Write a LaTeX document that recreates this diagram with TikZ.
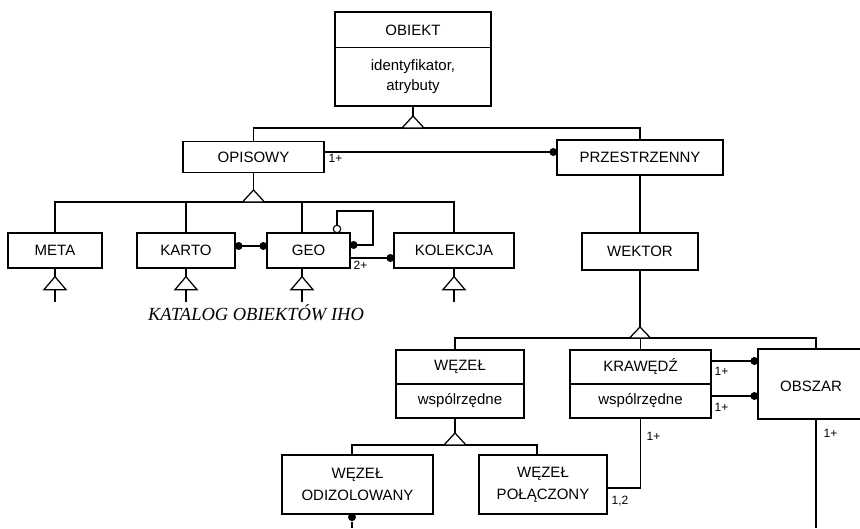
\documentclass[tikz,border=0pt]{standalone}
\usepackage{fontspec}
\setmainfont{Liberation Sans}
\newfontfamily\katfont{Liberation Serif}
\newcommand{\subtri}[2]{%
  \draw (#1) -- ++(0,8) coordinate (#2);
  \draw[fill=white] (#2) -- ++(-11,13) -- ++(22,0) -- cycle;
  \draw (#2) ++(0,13) -- ++(0,12);}
\begin{document}
\begin{tikzpicture}[x=1pt,y=-1pt,line width=1.25pt,
  box/.style={draw,inner sep=0pt,align=center,font=\fontsize{15}{22}\selectfont},
  txt/.style={inner sep=0pt,align=center,font=\fontsize{15}{20}\selectfont},
  lbl/.style={inner sep=0pt,anchor=west,font=\fontsize{12}{13}\selectfont},
  fdot/.style={circle,fill,inner sep=0pt,minimum size=8pt},
  odot/.style={circle,draw,fill=white,inner sep=0pt,minimum size=7.5pt,line width=1.1pt},
  tri/.style={draw,fill=white}]
\useasboundingbox (0,0) rectangle (860,528);
\clip (0,0) rectangle (860,528);
\fill[white] (0,0) rectangle (860,528);

% OBIEKT
\node[box,minimum width=156pt,minimum height=94pt] (obiekt) at (413,59) {};
\draw ([yshift=-36pt]obiekt.north west) -- ([yshift=-36pt]obiekt.north east);
\node[txt] (obiektT) at (413,30) {OBIEKT};
\node[txt] (obiektA) at (413,77) {identyfikator,\\atrybuty};

\node[box,minimum width=141pt,minimum height=31pt] (opisowy) at (253.5,157) {OPISOWY};
\node[box,minimum width=166pt,minimum height=35pt] (przestrzenny) at (640,157.5) {PRZESTRZENNY};

\coordinate (a1) at (413,116);
\coordinate (b1) at (413,128);
\draw (obiekt.south) -- (a1);
\draw (opisowy.north) |- (b1) -| (przestrzenny.north);
\draw[tri] (a1) -- ++(-11,12) -- ++(22,0) -- cycle;

\coordinate (l1) at (0,152);
\draw (opisowy.east |- l1) -- (przestrzenny.west |- l1);
\node[fdot,xshift=-3pt] (d1) at (przestrzenny.west |- l1) {};
\node[lbl] (m1) at (328,158.5) {1+};

% second level
\node[box,minimum width=94pt,minimum height=35pt] (meta) at (55,250.5) {META};
\node[box,minimum width=98pt,minimum height=35pt] (karto) at (186,250.5) {KARTO};
\node[box,minimum width=83pt,minimum height=35pt] (geo) at (308.5,250.5) {GEO};
\node[box,minimum width=120pt,minimum height=35pt] (kolekcja) at (454,250.5) {KOLEKCJA};

\coordinate (a2) at (253.5,190);
\coordinate (b2) at (253.5,202);
\draw (opisowy.south) -- (a2);
\draw (meta.north) |- (b2) -| (kolekcja.north);
\draw (karto.north) -- (karto.north |- b2);
\draw ([xshift=-6.5pt]geo.north) -- ([xshift=-6.5pt]geo.north |- b2);
\draw[tri] (a2) -- ++(-11,12) -- ++(22,0) -- cycle;

\subtri{meta.south}{ta}
\subtri{karto.south}{tb}
\subtri{[xshift=-6.5pt]geo.south}{tc}
\subtri{kolekcja.south}{td}

\coordinate (l2) at (0,246);
\draw (karto.east |- l2) -- (geo.west |- l2);
\node[fdot,xshift=3pt] (d2a) at (karto.east |- l2) {};
\node[fdot,xshift=-3pt] (d2b) at (geo.west |- l2) {};

\node[odot] (oc) at (337,229) {};
\coordinate (lp) at (373,211);
\coordinate (l3) at (0,245);
\draw (oc.north) |- (lp) |- (geo.east |- l3);
\node[fdot,xshift=3pt] (d3) at (geo.east |- l3) {};

\coordinate (l4) at (0,258);
\draw (geo.east |- l4) -- (kolekcja.west |- l4);
\node[fdot,xshift=-3pt] (d4) at (kolekcja.west |- l4) {};
\node[lbl] (m2) at (353,265.5) {2+};

\node[inner sep=0pt,font=\katfont\itshape\fontsize{18.5}{20}\selectfont] (katalog) at (256,313) {KATALOG OBIEKTÓW IHO};

% WEKTOR
\node[box,minimum width=116pt,minimum height=37pt] (wektor) at (640,251.5) {WEKTOR};
\draw (przestrzenny.south) -- (wektor.north);

% third level
\node[box,minimum width=128pt,minimum height=68pt] (wezel) at (460,384) {};
\draw (wezel.west) -- (wezel.east);
\node[txt] (wezelT) at (460,367) {WĘZEŁ};
\node[txt] (wezelA) at (460,401) {wspólrzędne};
\node[box,minimum width=141pt,minimum height=68pt] (krawedz) at (640.5,384) {};
\draw (krawedz.west) -- (krawedz.east);
\node[txt] (krawedzT) at (640.5,367) {KRAWĘDŹ};
\node[txt] (krawedzA) at (640.5,401) {wspólrzędne};
\node[box,minimum width=108pt,minimum height=70pt] (obszar) at (812,384) {};
\node[txt] (obszarT) at (811,386) {OBSZAR};

\coordinate (a3) at (640,327);
\coordinate (b3) at (640,338);
\draw (wektor.south) -- (a3);
\draw ([xshift=-5pt]wezel.north) |- (b3) -| ([xshift=4pt]obszar.north);
\draw (krawedz.north) -- (krawedz.north |- b3);
\draw[tri] (a3) -- ++(-10.5,11) -- ++(21,0) -- cycle;

\coordinate (l5) at (0,361);
\coordinate (l6) at (0,396);
\draw (krawedz.east |- l5) -- (obszar.west |- l5);
\draw (krawedz.east |- l6) -- (obszar.west |- l6);
\node[fdot,xshift=-3pt] (d5) at (obszar.west |- l5) {};
\node[fdot,xshift=-3pt] (d6) at (obszar.west |- l6) {};
\node[lbl] (m3) at (714,371) {1+};
\node[lbl] (m4) at (714,407) {1+};

% bottom level
\node[box,minimum width=151pt,minimum height=59pt] (odiz) at (357.5,484.5) {WĘZEŁ\\ODIZOLOWANY};
\node[box,minimum width=128pt,minimum height=59pt] (polacz) at (543,484.5) {WĘZEŁ\\POŁĄCZONY};
\coordinate (a4) at (455,433);
\coordinate (b4) at (455,445);
\draw ([xshift=-5pt]wezel.south) -- (a4);
\draw ([xshift=-5.5pt]odiz.north) |- (b4) -| ([xshift=-6pt]polacz.north);
\draw[tri] (a4) -- ++(-11,12) -- ++(22,0) -- cycle;

\node[fdot,yshift=-2.5pt] (d7) at ([xshift=-5.5pt]odiz.south) {};
\coordinate (e1) at (352,528);
\draw (d7) -- (e1);

\coordinate (l7) at (0,488);
\draw (krawedz.south) |- (polacz.east |- l7);
\node[lbl] (m5) at (646,436) {1+};
\node[lbl] (m6) at (611,501) {1,2};

\coordinate (e2) at (816,528);
\draw ([xshift=4pt]obszar.south) -- (e2);
\node[lbl] (m7) at (823,433) {1+};
\end{tikzpicture}
\end{document}
